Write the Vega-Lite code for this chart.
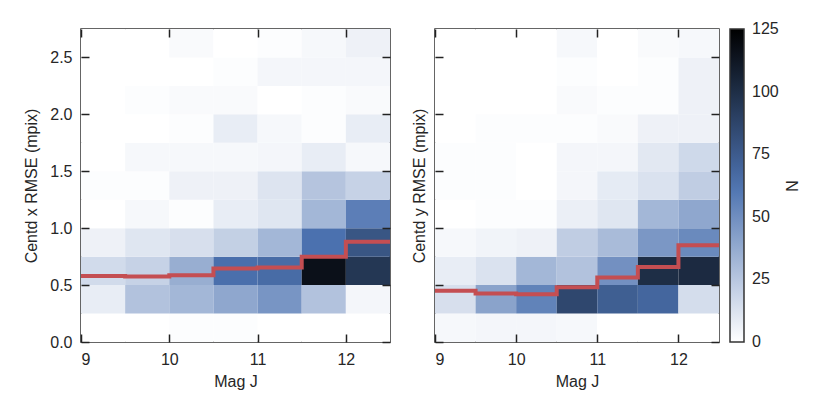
{
  "$schema": "https://vega.github.io/schema/vega-lite/v6.json",
  "padding": {"left": 23, "top": 27, "right": 5, "bottom": 5},
  "background": "white",
  "config": {
    "view": {"stroke": "#333333", "strokeWidth": 1.5},
    "axis": {"domain": false, "grid": false,
      "labelFont": "Liberation Sans", "labelFontSize": 16, "labelColor": "#262626", "labelPadding": 9,
      "titleFont": "Liberation Sans", "titleFontSize": 16, "titleFontWeight": "normal", "titleColor": "#262626"},
    "legend": {"labelFont": "Liberation Sans", "labelFontSize": 16, "labelColor": "#262626",
      "titleFont": "Liberation Sans", "titleFontSize": 16, "titleFontWeight": "normal", "titleColor": "#262626"}
  },
  "datasets": {
    "cx": [
      {"m0":9,"m1":9.5,"r0":0,"r1":0.25,"n":0},{"m0":9.5,"m1":10,"r0":0,"r1":0.25,"n":0},{"m0":10,"m1":10.5,"r0":0,"r1":0.25,"n":1},{"m0":10.5,"m1":11,"r0":0,"r1":0.25,"n":1},{"m0":11,"m1":11.5,"r0":0,"r1":0.25,"n":0},{"m0":11.5,"m1":12,"r0":0,"r1":0.25,"n":0},{"m0":12,"m1":12.5,"r0":0,"r1":0.25,"n":0},
      {"m0":9,"m1":9.5,"r0":0.25,"r1":0.5,"n":8},{"m0":9.5,"m1":10,"r0":0.25,"r1":0.5,"n":27},{"m0":10,"m1":10.5,"r0":0.25,"r1":0.5,"n":32},{"m0":10.5,"m1":11,"r0":0.25,"r1":0.5,"n":39},{"m0":11,"m1":11.5,"r0":0.25,"r1":0.5,"n":47},{"m0":11.5,"m1":12,"r0":0.25,"r1":0.5,"n":27},{"m0":12,"m1":12.5,"r0":0.25,"r1":0.5,"n":4},
      {"m0":9,"m1":9.5,"r0":0.5,"r1":0.75,"n":16},{"m0":9.5,"m1":10,"r0":0.5,"r1":0.75,"n":20},{"m0":10,"m1":10.5,"r0":0.5,"r1":0.75,"n":36},{"m0":10.5,"m1":11,"r0":0.5,"r1":0.75,"n":64},{"m0":11,"m1":11.5,"r0":0.5,"r1":0.75,"n":66},{"m0":11.5,"m1":12,"r0":0.5,"r1":0.75,"n":116},{"m0":12,"m1":12.5,"r0":0.5,"r1":0.75,"n":95},
      {"m0":9,"m1":9.5,"r0":0.75,"r1":1,"n":6},{"m0":9.5,"m1":10,"r0":0.75,"r1":1,"n":11},{"m0":10,"m1":10.5,"r0":0.75,"r1":1,"n":14},{"m0":10.5,"m1":11,"r0":0.75,"r1":1,"n":21},{"m0":11,"m1":11.5,"r0":0.75,"r1":1,"n":32},{"m0":11.5,"m1":12,"r0":0.75,"r1":1,"n":63},{"m0":12,"m1":12.5,"r0":0.75,"r1":1,"n":78},
      {"m0":9,"m1":9.5,"r0":1,"r1":1.25,"n":0},{"m0":9.5,"m1":10,"r0":1,"r1":1.25,"n":3},{"m0":10,"m1":10.5,"r0":1,"r1":1.25,"n":1},{"m0":10.5,"m1":11,"r0":1,"r1":1.25,"n":8},{"m0":11,"m1":11.5,"r0":1,"r1":1.25,"n":11},{"m0":11.5,"m1":12,"r0":1,"r1":1.25,"n":32},{"m0":12,"m1":12.5,"r0":1,"r1":1.25,"n":57},
      {"m0":9,"m1":9.5,"r0":1.25,"r1":1.5,"n":1},{"m0":9.5,"m1":10,"r0":1.25,"r1":1.5,"n":1},{"m0":10,"m1":10.5,"r0":1.25,"r1":1.5,"n":6},{"m0":10.5,"m1":11,"r0":1.25,"r1":1.5,"n":6},{"m0":11,"m1":11.5,"r0":1.25,"r1":1.5,"n":12},{"m0":11.5,"m1":12,"r0":1.25,"r1":1.5,"n":26},{"m0":12,"m1":12.5,"r0":1.25,"r1":1.5,"n":20},
      {"m0":9,"m1":9.5,"r0":1.5,"r1":1.75,"n":0},{"m0":9.5,"m1":10,"r0":1.5,"r1":1.75,"n":3},{"m0":10,"m1":10.5,"r0":1.5,"r1":1.75,"n":3},{"m0":10.5,"m1":11,"r0":1.5,"r1":1.75,"n":3},{"m0":11,"m1":11.5,"r0":1.5,"r1":1.75,"n":4},{"m0":11.5,"m1":12,"r0":1.5,"r1":1.75,"n":8},{"m0":12,"m1":12.5,"r0":1.5,"r1":1.75,"n":3},
      {"m0":9,"m1":9.5,"r0":1.75,"r1":2,"n":0},{"m0":9.5,"m1":10,"r0":1.75,"r1":2,"n":0},{"m0":10,"m1":10.5,"r0":1.75,"r1":2,"n":1},{"m0":10.5,"m1":11,"r0":1.75,"r1":2,"n":8},{"m0":11,"m1":11.5,"r0":1.75,"r1":2,"n":3},{"m0":11.5,"m1":12,"r0":1.75,"r1":2,"n":1},{"m0":12,"m1":12.5,"r0":1.75,"r1":2,"n":8},
      {"m0":9,"m1":9.5,"r0":2,"r1":2.25,"n":0},{"m0":9.5,"m1":10,"r0":2,"r1":2.25,"n":1},{"m0":10,"m1":10.5,"r0":2,"r1":2.25,"n":2},{"m0":10.5,"m1":11,"r0":2,"r1":2.25,"n":2},{"m0":11,"m1":11.5,"r0":2,"r1":2.25,"n":0},{"m0":11.5,"m1":12,"r0":2,"r1":2.25,"n":1},{"m0":12,"m1":12.5,"r0":2,"r1":2.25,"n":2},
      {"m0":9,"m1":9.5,"r0":2.25,"r1":2.5,"n":0},{"m0":9.5,"m1":10,"r0":2.25,"r1":2.5,"n":0},{"m0":10,"m1":10.5,"r0":2.25,"r1":2.5,"n":0},{"m0":10.5,"m1":11,"r0":2.25,"r1":2.5,"n":1},{"m0":11,"m1":11.5,"r0":2.25,"r1":2.5,"n":4},{"m0":11.5,"m1":12,"r0":2.25,"r1":2.5,"n":4},{"m0":12,"m1":12.5,"r0":2.25,"r1":2.5,"n":4},
      {"m0":9,"m1":9.5,"r0":2.5,"r1":2.75,"n":0},{"m0":9.5,"m1":10,"r0":2.5,"r1":2.75,"n":0},{"m0":10,"m1":10.5,"r0":2.5,"r1":2.75,"n":2},{"m0":10.5,"m1":11,"r0":2.5,"r1":2.75,"n":0},{"m0":11,"m1":11.5,"r0":2.5,"r1":2.75,"n":1},{"m0":11.5,"m1":12,"r0":2.5,"r1":2.75,"n":3},{"m0":12,"m1":12.5,"r0":2.5,"r1":2.75,"n":6}
    ],
    "cy": [
      {"m0":9,"m1":9.5,"r0":0,"r1":0.25,"n":3},{"m0":9.5,"m1":10,"r0":0,"r1":0.25,"n":4},{"m0":10,"m1":10.5,"r0":0,"r1":0.25,"n":4},{"m0":10.5,"m1":11,"r0":0,"r1":0.25,"n":3},{"m0":11,"m1":11.5,"r0":0,"r1":0.25,"n":0},{"m0":11.5,"m1":12,"r0":0,"r1":0.25,"n":0},{"m0":12,"m1":12.5,"r0":0,"r1":0.25,"n":0},
      {"m0":9,"m1":9.5,"r0":0.25,"r1":0.5,"n":14},{"m0":9.5,"m1":10,"r0":0.25,"r1":0.5,"n":41},{"m0":10,"m1":10.5,"r0":0.25,"r1":0.5,"n":55},{"m0":10.5,"m1":11,"r0":0.25,"r1":0.5,"n":86},{"m0":11,"m1":11.5,"r0":0.25,"r1":0.5,"n":73},{"m0":11.5,"m1":12,"r0":0.25,"r1":0.5,"n":69},{"m0":12,"m1":12.5,"r0":0.25,"r1":0.5,"n":15},
      {"m0":9,"m1":9.5,"r0":0.5,"r1":0.75,"n":8},{"m0":9.5,"m1":10,"r0":0.5,"r1":0.75,"n":13},{"m0":10,"m1":10.5,"r0":0.5,"r1":0.75,"n":32},{"m0":10.5,"m1":11,"r0":0.5,"r1":0.75,"n":27},{"m0":11,"m1":11.5,"r0":0.5,"r1":0.75,"n":49},{"m0":11.5,"m1":12,"r0":0.5,"r1":0.75,"n":100},{"m0":12,"m1":12.5,"r0":0.5,"r1":0.75,"n":102},
      {"m0":9,"m1":9.5,"r0":0.75,"r1":1,"n":3},{"m0":9.5,"m1":10,"r0":0.75,"r1":1,"n":5},{"m0":10,"m1":10.5,"r0":0.75,"r1":1,"n":6},{"m0":10.5,"m1":11,"r0":0.75,"r1":1,"n":22},{"m0":11,"m1":11.5,"r0":0.75,"r1":1,"n":30},{"m0":11.5,"m1":12,"r0":0.75,"r1":1,"n":46},{"m0":12,"m1":12.5,"r0":0.75,"r1":1,"n":52},
      {"m0":9,"m1":9.5,"r0":1,"r1":1.25,"n":0},{"m0":9.5,"m1":10,"r0":1,"r1":1.25,"n":1},{"m0":10,"m1":10.5,"r0":1,"r1":1.25,"n":1},{"m0":10.5,"m1":11,"r0":1,"r1":1.25,"n":7},{"m0":11,"m1":11.5,"r0":1,"r1":1.25,"n":11},{"m0":11.5,"m1":12,"r0":1,"r1":1.25,"n":32},{"m0":12,"m1":12.5,"r0":1,"r1":1.25,"n":39},
      {"m0":9,"m1":9.5,"r0":1.25,"r1":1.5,"n":1},{"m0":9.5,"m1":10,"r0":1.25,"r1":1.5,"n":1},{"m0":10,"m1":10.5,"r0":1.25,"r1":1.5,"n":0},{"m0":10.5,"m1":11,"r0":1.25,"r1":1.5,"n":4},{"m0":11,"m1":11.5,"r0":1.25,"r1":1.5,"n":9},{"m0":11.5,"m1":12,"r0":1.25,"r1":1.5,"n":13},{"m0":12,"m1":12.5,"r0":1.25,"r1":1.5,"n":22},
      {"m0":9,"m1":9.5,"r0":1.5,"r1":1.75,"n":1},{"m0":9.5,"m1":10,"r0":1.5,"r1":1.75,"n":1},{"m0":10,"m1":10.5,"r0":1.5,"r1":1.75,"n":0},{"m0":10.5,"m1":11,"r0":1.5,"r1":1.75,"n":4},{"m0":11,"m1":11.5,"r0":1.5,"r1":1.75,"n":4},{"m0":11.5,"m1":12,"r0":1.5,"r1":1.75,"n":10},{"m0":12,"m1":12.5,"r0":1.5,"r1":1.75,"n":17},
      {"m0":9,"m1":9.5,"r0":1.75,"r1":2,"n":0},{"m0":9.5,"m1":10,"r0":1.75,"r1":2,"n":1},{"m0":10,"m1":10.5,"r0":1.75,"r1":2,"n":1},{"m0":10.5,"m1":11,"r0":1.75,"r1":2,"n":1},{"m0":11,"m1":11.5,"r0":1.75,"r1":2,"n":2},{"m0":11.5,"m1":12,"r0":1.75,"r1":2,"n":6},{"m0":12,"m1":12.5,"r0":1.75,"r1":2,"n":6},
      {"m0":9,"m1":9.5,"r0":2,"r1":2.25,"n":0},{"m0":9.5,"m1":10,"r0":2,"r1":2.25,"n":0},{"m0":10,"m1":10.5,"r0":2,"r1":2.25,"n":0},{"m0":10.5,"m1":11,"r0":2,"r1":2.25,"n":2},{"m0":11,"m1":11.5,"r0":2,"r1":2.25,"n":1},{"m0":11.5,"m1":12,"r0":2,"r1":2.25,"n":1},{"m0":12,"m1":12.5,"r0":2,"r1":2.25,"n":6},
      {"m0":9,"m1":9.5,"r0":2.25,"r1":2.5,"n":0},{"m0":9.5,"m1":10,"r0":2.25,"r1":2.5,"n":0},{"m0":10,"m1":10.5,"r0":2.25,"r1":2.5,"n":0},{"m0":10.5,"m1":11,"r0":2.25,"r1":2.5,"n":1},{"m0":11,"m1":11.5,"r0":2.25,"r1":2.5,"n":0},{"m0":11.5,"m1":12,"r0":2.25,"r1":2.5,"n":1},{"m0":12,"m1":12.5,"r0":2.25,"r1":2.5,"n":6},
      {"m0":9,"m1":9.5,"r0":2.5,"r1":2.75,"n":0},{"m0":9.5,"m1":10,"r0":2.5,"r1":2.75,"n":0},{"m0":10,"m1":10.5,"r0":2.5,"r1":2.75,"n":0},{"m0":10.5,"m1":11,"r0":2.5,"r1":2.75,"n":3},{"m0":11,"m1":11.5,"r0":2.5,"r1":2.75,"n":0},{"m0":11.5,"m1":12,"r0":2.5,"r1":2.75,"n":2},{"m0":12,"m1":12.5,"r0":2.5,"r1":2.75,"n":3}
    ],
    "sx": [
      {"m":9,"r":0.58},{"m":9.5,"r":0.575},{"m":10,"r":0.587},{"m":10.5,"r":0.646},{"m":11,"r":0.655},{"m":11.5,"r":0.75},{"m":12,"r":0.88},{"m":12.5,"r":0.88}
    ],
    "sy": [
      {"m":9,"r":0.45},{"m":9.5,"r":0.427},{"m":10,"r":0.42},{"m":10.5,"r":0.48},{"m":11,"r":0.567},{"m":11.5,"r":0.66},{"m":12,"r":0.85},{"m":12.5,"r":0.85}
    ]
  },
  "hconcat": [
    {
      "width": 309, "height": 313,
      "layer": [
        {
          "data": {"name": "cx"},
          "mark": {"type": "rect"},
          "encoding": {
            "x": {"field": "m0", "type": "quantitative", "scale": {"domain": [9, 12.5], "nice": false, "zero": false},
              "axis": {"orient": "bottom", "title": "Mag J", "values": [9, 10, 11, 12], "format": "d", "titlePadding": 6,
                "ticks": true, "tickSize": 8, "offset": -8, "tickColor": "#222222", "tickWidth": 1.5, "zindex": 2}},
            "x2": {"field": "m1"},
            "y": {"field": "r0", "type": "quantitative", "scale": {"domain": [0, 2.75], "nice": false, "zero": false},
              "axis": {"orient": "left", "title": "Centd x RMSE (mpix)", "values": [0, 0.5, 1, 1.5, 2, 2.5], "format": ".1f", "titlePadding": 10,
                "ticks": true, "tickSize": 8, "offset": -8, "tickColor": "#222222", "tickWidth": 1.5, "zindex": 2}},
            "y2": {"field": "r1"},
            "color": {"field": "n", "type": "quantitative",
              "scale": {"domain": [0, 62.5, 125], "range": ["#ffffff", "#4c72b0", "#000000"], "interpolate": "rgb"},
              "legend": {"type": "gradient", "title": "N", "values": [0, 25, 50, 75, 100, 125], "gradientLength": 313, "gradientThickness": 14,
                "gradientStrokeColor": "#333333", "gradientStrokeWidth": 1.5, "titleOrient": "right", "offset": 9,
                "labelOffset": 8, "labelOverlap": false, "titlePadding": 4,
                "encode": {"labels": {"update": {"baseline": {"value": "middle"}}}}}}
          }
        },
        {
          "data": {"name": "sx"},
          "mark": {"type": "line", "interpolate": "step-after", "color": "#c44e52", "strokeWidth": 4, "clip": true},
          "encoding": {
            "x": {"field": "m", "type": "quantitative", "axis": {"orient": "top", "labels": false, "title": null, "values": [9, 10, 11, 12],
              "ticks": true, "tickSize": -8, "tickColor": "#222222", "tickWidth": 1.5, "zindex": 2}},
            "y": {"field": "r", "type": "quantitative", "axis": {"orient": "right", "labels": false, "title": null, "values": [0, 0.5, 1, 1.5, 2, 2.5],
              "ticks": true, "tickSize": -8, "tickColor": "#222222", "tickWidth": 1.5, "zindex": 2}}
          }
        }
      ],
      "resolve": {"axis": {"x": "independent", "y": "independent"}}
    },
    {
      "width": 284, "height": 313,
      "layer": [
        {
          "data": {"name": "cy"},
          "mark": {"type": "rect"},
          "encoding": {
            "x": {"field": "m0", "type": "quantitative", "scale": {"domain": [9, 12.5], "nice": false, "zero": false},
              "axis": {"orient": "bottom", "title": "Mag J", "values": [9, 10, 11, 12], "format": "d", "titlePadding": 6,
                "ticks": true, "tickSize": 8, "offset": -8, "tickColor": "#222222", "tickWidth": 1.5, "zindex": 2}},
            "x2": {"field": "m1"},
            "y": {"field": "r0", "type": "quantitative", "scale": {"domain": [0, 2.75], "nice": false, "zero": false},
              "axis": {"orient": "left", "title": "Centd y RMSE (mpix)", "labels": false, "values": [0, 0.5, 1, 1.5, 2, 2.5], "titlePadding": 7,
                "ticks": true, "tickSize": 8, "offset": -8, "tickColor": "#222222", "tickWidth": 1.5, "zindex": 2}},
            "y2": {"field": "r1"},
            "color": {"field": "n", "type": "quantitative",
              "scale": {"domain": [0, 62.5, 125], "range": ["#ffffff", "#4c72b0", "#000000"], "interpolate": "rgb"}}
          }
        },
        {
          "data": {"name": "sy"},
          "mark": {"type": "line", "interpolate": "step-after", "color": "#c44e52", "strokeWidth": 4, "clip": true},
          "encoding": {
            "x": {"field": "m", "type": "quantitative", "axis": {"orient": "top", "labels": false, "title": null, "values": [9, 10, 11, 12],
              "ticks": true, "tickSize": -8, "tickColor": "#222222", "tickWidth": 1.5, "zindex": 2}},
            "y": {"field": "r", "type": "quantitative", "axis": {"orient": "right", "labels": false, "title": null, "values": [0, 0.5, 1, 1.5, 2, 2.5],
              "ticks": true, "tickSize": -8, "tickColor": "#222222", "tickWidth": 1.5, "zindex": 2}}
          }
        }
      ],
      "resolve": {"axis": {"x": "independent", "y": "independent"}}
    }
  ],
  "spacing": 18,
  "resolve": {"scale": {"color": "shared"}, "legend": {"color": "shared"}}
}
